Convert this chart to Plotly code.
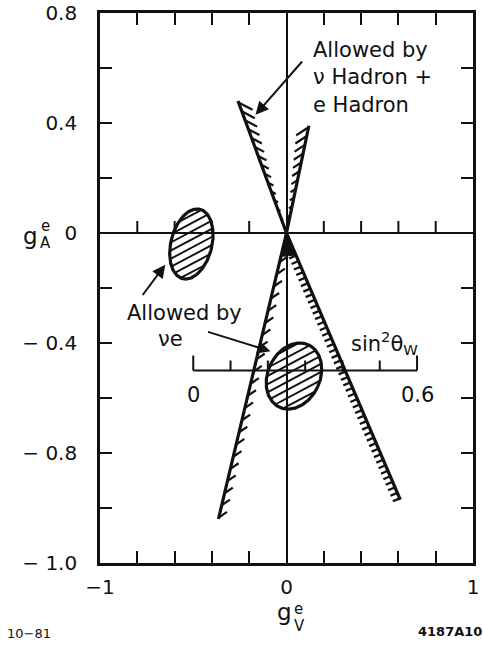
import math
import numpy as np
import plotly.graph_objects as go

# ---------------------------------------------------------------- data
# frame ranges and tick marks (g_V^e horizontally, g_A^e vertically)
x_range = [-1.0, 1.0]
y_range = [-1.2, 0.8]
x_ticks = [-1.0, -0.8, -0.6, -0.4, -0.2, 0.0, 0.2, 0.4, 0.6, 0.8, 1.0]
x_tick_text = ["\u22121", "", "", "", "", "0", "", "", "", "", "1"]
y_ticks = [0.8, 0.6, 0.4, 0.2, 0.0, -0.2, -0.4, -0.6, -0.8, -1.0, -1.2]
y_tick_text = ["0.8", "", "0.4", "", "0", "", "\u2212 0.4", "", "\u2212 0.8", "", "\u2212 1.0"]

# boundary rays of the nu-hadron + e-hadron allowed cones (end points)
ray_end_gv = [-0.26, 0.12, -0.365, 0.61]
ray_end_ga = [0.48, 0.39, -1.04, -0.97]

# nu-e allowed ellipses
ell_center_gv = [-0.51, 0.04]
ell_center_ga = [-0.04, -0.52]
ell_half_gv = [0.11, 0.14]
ell_half_ga = [0.13, 0.125]
ell_lean_deg = [14, 25]

# sin^2(theta_W) scale drawn along g_A = -1/2
sin2_ticks = [0.0, 0.1, 0.2, 0.3, 0.4, 0.5, 0.6]
sin2_labelled = [0.0, 0.6]
sin2_label_text = ["0", "0.6"]
sin2_line_ga = -0.5

# ---------------------------------------------------------------- geometry
W, H = 483, 647
M_L, M_R, M_T, M_B = 100, 10, 13, 84
SX = (W - M_L - M_R) / (x_range[1] - x_range[0])   # px per unit g_V
SY = (H - M_T - M_B) / (y_range[1] - y_range[0])   # px per unit g_A
INK = "#111111"
FONT = "DejaVu Sans"


def sin2_to_gv(s):
    # g_V = -1/2 + 2 sin^2(theta_W)
    return -0.5 + 2.0 * s


def add_seg(xs, ys, p, q):
    xs += [p[0] / SX, q[0] / SX, None]
    ys += [p[1] / SY, q[1] / SY, None]


def ray_strokes(tx, ty, spacing, max_len, taper, lean_deg, start, xs, ys):
    tip = np.array([tx * SX, ty * SY])
    L = float(np.hypot(*tip))
    d = tip / L
    n = np.array([-d[1], d[0]])
    if n[0] * np.sign(tx) > 0:
        n = -n                      # hatch on the side facing the g_A axis
    a = math.radians(lean_deg)
    u = math.cos(a) * n - math.sin(a) * d
    s = L - 1.5
    while s > start:
        base = d * s
        ln = max_len * (s / L) if taper else max_len
        add_seg(xs, ys, base, base + ln * u)
        s -= spacing


def ellipse_outline(cx, cy, hx, hy, lean):
    t = np.linspace(0, 2 * np.pi, 241)
    a, b = hx * SX, hy * SY
    ang = -math.radians(lean)
    ex, ey = a * np.cos(t), b * np.sin(t)
    px = cx * SX + ex * math.cos(ang) - ey * math.sin(ang)
    py = cy * SY + ex * math.sin(ang) + ey * math.cos(ang)
    return px / SX, py / SY


def ellipse_hatch(cx, cy, hx, hy, lean, angle_deg, gap, xs, ys):
    a, b = hx * SX, hy * SY
    ang = -math.radians(lean)
    ca, sa = math.cos(ang), math.sin(ang)
    C = np.array([cx * SX, cy * SY])
    u = np.array([math.cos(math.radians(angle_deg)), math.sin(math.radians(angle_deg))])
    nrm = np.array([-u[1], u[0]])

    def loc(v):
        return np.array([(ca * v[0] + sa * v[1]) / a, (-sa * v[0] + ca * v[1]) / b])

    R = max(a, b)
    for off in np.arange(-R + gap / 2, R, gap):
        P0 = C + off * nrm
        q0, q1 = loc(P0 - C), loc(u)
        A = q1 @ q1
        B = 2 * (q0 @ q1)
        Cc = q0 @ q0 - 1
        disc = B * B - 4 * A * Cc
        if disc <= 0:
            continue
        r = math.sqrt(disc)
        t1, t2 = (-B - r) / (2 * A), (-B + r) / (2 * A)
        if t2 - t1 < 3:
            continue
        add_seg(xs, ys, P0 + t1 * u, P0 + t2 * u)


fig = go.Figure()

# ---------------------------------------------------------------- hadron cones
hx, hy = [], []
# upper pair: tapered strokes forming narrow wedges
ray_strokes(ray_end_gv[0], ray_end_ga[0], 9.5, 16, True, 48, 10, hx, hy)
ray_strokes(ray_end_gv[1], ray_end_ga[1], 9.0, 15, True, 45, 10, hx, hy)
# lower-left: slanted strokes of constant length
ray_strokes(ray_end_gv[2], ray_end_ga[2], 12.5, 10, False, 48, 14, hx, hy)
fig.add_trace(go.Scatter(x=hx, y=hy, mode="lines",
                         line=dict(color=INK, width=2.2), hoverinfo="skip"))
# lower-right: dense comb
cx_, cy_ = [], []
ray_strokes(ray_end_gv[3], ray_end_ga[3], 6.0, 7.5, False, 0, 16, cx_, cy_)
fig.add_trace(go.Scatter(x=cx_, y=cy_, mode="lines",
                         line=dict(color=INK, width=2.3), hoverinfo="skip"))

# ink-filled apex just below the origin
apex_r = 24.0
ll = np.array([ray_end_gv[2] * SX, ray_end_ga[2] * SY])
lr = np.array([ray_end_gv[3] * SX, ray_end_ga[3] * SY])
ll = ll / np.hypot(*ll) * apex_r
lr = lr / np.hypot(*lr) * apex_r
fig.add_trace(go.Scatter(x=[0, ll[0] / SX, lr[0] / SX, 0], y=[0, ll[1] / SY, lr[1] / SY, 0],
                         mode="lines", fill="toself", fillcolor=INK,
                         line=dict(color=INK, width=1), hoverinfo="skip"))

for gv, ga in zip(ray_end_gv, ray_end_ga):
    fig.add_trace(go.Scatter(x=[0, gv], y=[0, ga], mode="lines",
                             line=dict(color=INK, width=3.2), hoverinfo="skip"))

# ---------------------------------------------------------------- nu-e ellipses
ex_, ey_ = [], []
for i in range(len(ell_center_gv)):
    ellipse_hatch(ell_center_gv[i], ell_center_ga[i], ell_half_gv[i], ell_half_ga[i],
                  ell_lean_deg[i], 28, 7.2, ex_, ey_)
fig.add_trace(go.Scatter(x=ex_, y=ey_, mode="lines",
                         line=dict(color=INK, width=1.9), hoverinfo="skip"))
for i in range(len(ell_center_gv)):
    ox, oy = ellipse_outline(ell_center_gv[i], ell_center_ga[i], ell_half_gv[i],
                             ell_half_ga[i], ell_lean_deg[i])
    fig.add_trace(go.Scatter(x=ox, y=oy, mode="lines",
                             line=dict(color=INK, width=3.2), hoverinfo="skip"))

# ---------------------------------------------------------------- ticks on g_A = 0
zx, zy = [], []
for v in x_ticks:
    if abs(v) < 1e-9 or abs(abs(v) - 1) < 1e-9:
        continue
    zx += [v, v, None]
    zy += [0, 12 / SY, None]
fig.add_trace(go.Scatter(x=zx, y=zy, mode="lines",
                         line=dict(color=INK, width=2), hoverinfo="skip"))

# ---------------------------------------------------------------- sin^2 scale
sx = [sin2_to_gv(sin2_ticks[0]), sin2_to_gv(sin2_ticks[-1])]
fig.add_trace(go.Scatter(x=sx, y=[sin2_line_ga] * 2, mode="lines",
                         line=dict(color=INK, width=2), hoverinfo="skip"))
tx, ty = [], []
for i, s in enumerate(sin2_ticks):
    h = 15 if i in (0, len(sin2_ticks) - 1) else 10
    tx += [sin2_to_gv(s), sin2_to_gv(s), None]
    ty += [sin2_line_ga, sin2_line_ga + h / SY, None]
fig.add_trace(go.Scatter(x=tx, y=ty, mode="lines",
                         line=dict(color=INK, width=2), hoverinfo="skip"))

LABEL = dict(family=FONT, size=21, color=INK)

annotations = []
for s, txt in zip(sin2_labelled, sin2_label_text):
    annotations.append(dict(x=sin2_to_gv(s), y=sin2_line_ga, text=txt, showarrow=False,
                            xanchor="center", yanchor="middle", yshift=-24, font=LABEL))
annotations.append(dict(x=0.525, y=-0.40, text="sin<sup>2</sup>\u03b8<sub>W</sub>",
                        showarrow=False, xanchor="center", yanchor="middle", font=LABEL))

# ---------------------------------------------------------------- labels and arrows
annotations.append(dict(x=0.13, y=0.565, xanchor="left", yanchor="middle", align="left",
                        text="Allowed by<br>\u03bd Hadron +<br>e Hadron", showarrow=False,
                        font=LABEL))
annotations.append(dict(x=-0.545, y=-0.29, text="Allowed by", showarrow=False,
                        xanchor="center", yanchor="middle", font=LABEL))
annotations.append(dict(x=-0.62, y=-0.385, text="\u03bde", showarrow=False,
                        xanchor="center", yanchor="middle", font=LABEL))

arrows = [  # (head g_V, head g_A, tail g_V, tail g_A)
    (-0.166, 0.43, 0.091, 0.629),
    (-0.650, -0.115, -0.777, -0.231),
    (-0.086, -0.43, -0.429, -0.358),
]
for xh, yh, xt, yt in arrows:
    annotations.append(dict(x=xh, y=yh, ax=xt, ay=yt, xref="x", yref="y",
                            axref="x", ayref="y", text="", showarrow=True,
                            arrowhead=2, arrowsize=1.3, arrowwidth=2, arrowcolor=INK,
                            standoff=0))


# axis titles with stacked super/subscripts, and figure codes
def px_to_paper(px, py):
    return (px - M_L) / (W - M_L - M_R), (H - M_B - py) / (H - M_T - M_B)


for txt, px, py, size in [("g", 30, 236, 23), ("e", 45, 226, 15), ("A", 45, 243, 15),
                          ("g", 284, 612, 23), ("e", 298, 609, 15), ("V", 299, 626, 15)]:
    xp, yp = px_to_paper(px, py)
    annotations.append(dict(x=xp, y=yp, xref="paper", yref="paper", text=txt,
                            showarrow=False, xanchor="center", yanchor="middle",
                            font=dict(family=FONT, size=size, color=INK)))
for txt, px, py, wt in [("10\u221281", 29, 633, "normal"), ("4187A10", 450, 631, "bold")]:
    xp, yp = px_to_paper(px, py)
    annotations.append(dict(x=xp, y=yp, xref="paper", yref="paper", text=txt,
                            showarrow=False, xanchor="center", yanchor="middle",
                            font=dict(family=FONT, size=13, color=INK, weight=wt)))

axis_common = dict(showline=True, linecolor=INK, linewidth=2.6, mirror="ticks",
                   ticks="inside", ticklen=12, tickwidth=2, tickcolor=INK,
                   showgrid=False, zeroline=True, zerolinecolor=INK, zerolinewidth=2.2,
                   tickfont=dict(family=FONT, size=20, color=INK), fixedrange=True,
                   automargin=False, ticklabeloverflow="allow")

fig.update_layout(
    width=W, height=H,
    margin=dict(l=M_L, r=M_R, t=M_T, b=M_B, pad=0, autoexpand=False),
    paper_bgcolor="white", plot_bgcolor="white",
    showlegend=False,
    xaxis=dict(range=x_range, tickmode="array", tickvals=x_ticks, ticktext=x_tick_text,
               ticklabelstandoff=4, **axis_common),
    yaxis=dict(range=y_range, tickmode="array", tickvals=y_ticks, ticktext=y_tick_text,
               ticklabelstandoff=16, **axis_common),
    annotations=annotations,
)

fig.write_html("out.html")
